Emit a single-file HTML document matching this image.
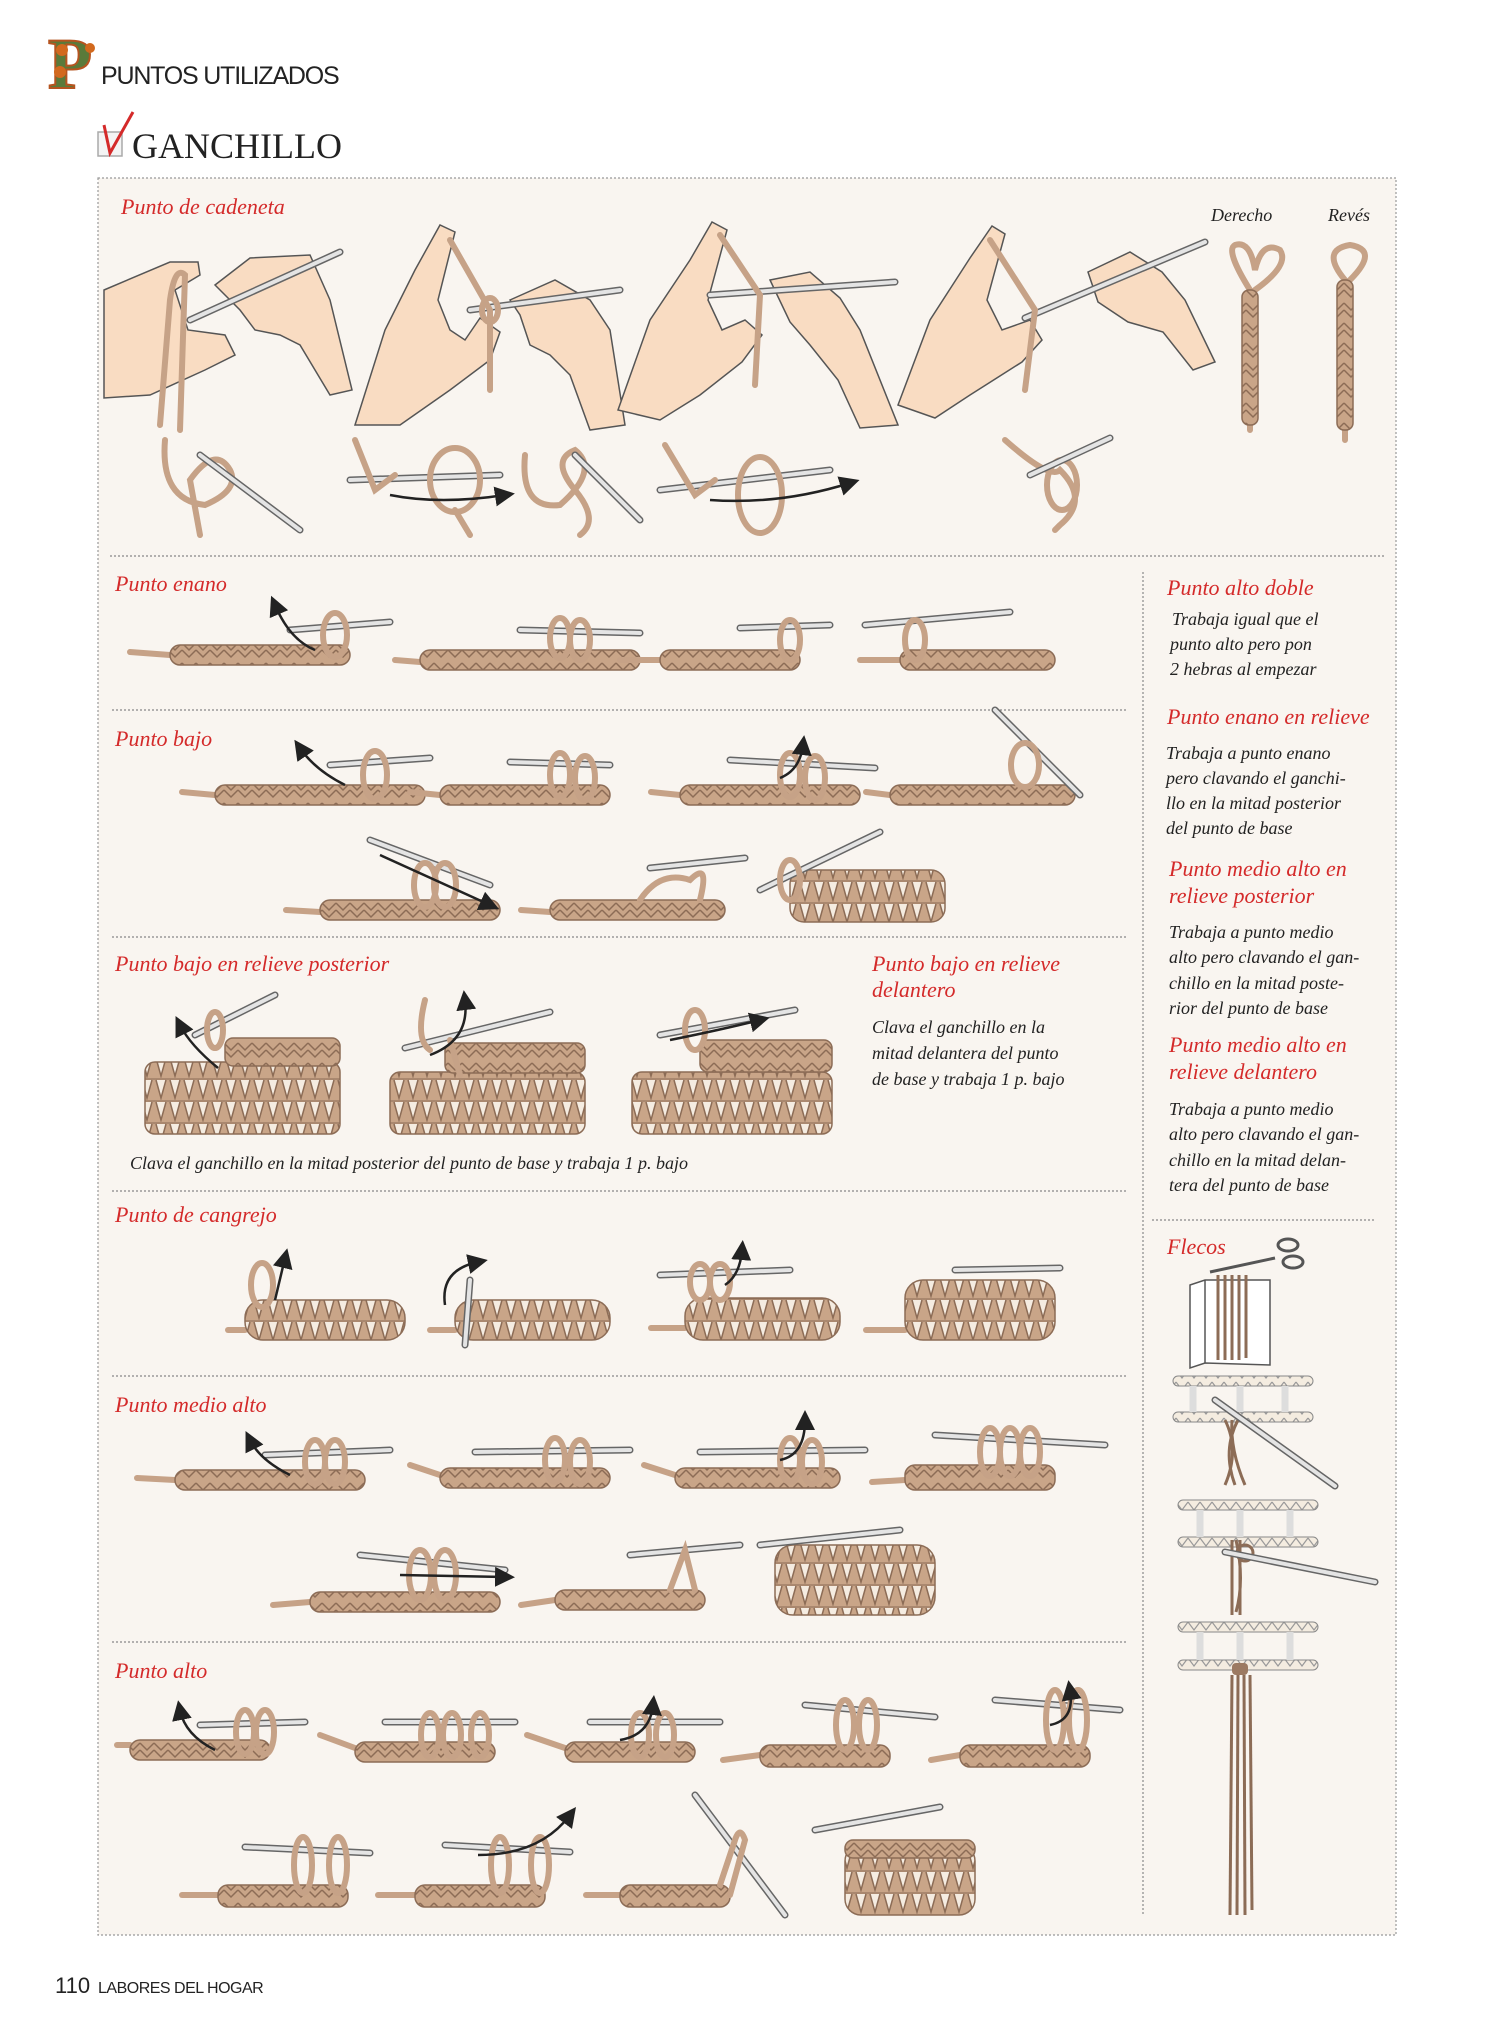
<!DOCTYPE html>
<html><head><meta charset="utf-8"><style>
html,body{margin:0;padding:0;background:#fff}
body{width:1500px;height:2040px;position:relative;overflow:hidden}
svg{position:absolute;left:0;top:0}
.r{font-family:"Liberation Serif",serif;font-style:italic;fill:#d42a2a;font-size:22px}
.b{font-family:"Liberation Serif",serif;font-style:italic;fill:#222;font-size:18px}
.c{fill:url(#zz);stroke:#8c6c56;stroke-width:1.5}
.blk{fill:url(#vv);stroke:#8c6c56;stroke-width:1.5}
.y{fill:none;stroke:#c6a287;stroke-width:6;stroke-linecap:round}
.h{stroke:#666;stroke-width:7;stroke-linecap:round}
.hi{stroke:#e4e4e4;stroke-width:4;stroke-linecap:round}
.a{fill:none;stroke:#222;stroke-width:2.5}
.sk{fill:#f9dcc2;stroke:#555;stroke-width:1.5}
</style></head><body>
<svg width="1500" height="2040" viewBox="0 0 1500 2040">
<defs>
<pattern id="zz" width="14" height="20" patternUnits="userSpaceOnUse">
<rect width="14" height="20" fill="#c9a588"/>
<path d="M0 3 L7 10 L14 3 M0 10 L7 17 L14 10" stroke="#8c6c56" stroke-width="1.5" fill="none"/>
</pattern>
<pattern id="vv" width="14" height="22" patternUnits="userSpaceOnUse">
<rect width="14" height="22" fill="#c9a588"/>
<path d="M2 2 L7 20 L12 2" stroke="#8c6c56" stroke-width="1.5" fill="#f5ece1"/>
<path d="M0 1 H14" stroke="#8c6c56" stroke-width="1"/>
</pattern>
<pattern id="tw" width="12" height="12" patternUnits="userSpaceOnUse">
<rect width="12" height="12" fill="#f4ece0"/>
<path d="M0 2 L6 10 L12 2" stroke="#999" stroke-width="1.2" fill="none"/>
</pattern>
<marker id="ar" markerWidth="8" markerHeight="8" refX="4" refY="4" orient="auto"><path d="M0 0 L8 4 L0 8z" fill="#222"/></marker>
</defs>

<!-- header -->
<text x="48" y="88" font-family="Liberation Serif,serif" font-weight="bold" font-size="72" fill="#5a7a3a" stroke="#b5541f" stroke-width="2">P</text>
<circle cx="62" cy="50" r="6" fill="#d2691e"/><circle cx="60" cy="72" r="6" fill="#d2691e"/><circle cx="90" cy="48" r="5" fill="#d2691e"/>
<text x="101" y="84" font-family="Liberation Sans,sans-serif" font-size="25" fill="#222" letter-spacing="-1.2">PUNTOS UTILIZADOS</text>
<rect x="98" y="132" width="24" height="24" fill="#f4f4f4" stroke="#aaa" stroke-width="1.5"/>
<path d="M104 125 L110 153 L133 112" fill="none" stroke="#d42a2a" stroke-width="3"/>
<text x="132" y="158" font-family="Liberation Serif,serif" font-size="36" fill="#222">GANCHILLO</text>

<!-- frame -->
<rect x="98" y="178" width="1298" height="1757" fill="#f9f5f0" stroke="#999" stroke-width="1.2" stroke-dasharray="2,2"/>
<g stroke="#888" stroke-width="1.2" stroke-dasharray="2,2">
<line x1="110" y1="556" x2="1386" y2="556"/>
<line x1="112" y1="710" x2="1126" y2="710"/>
<line x1="112" y1="937" x2="1126" y2="937"/>
<line x1="112" y1="1191" x2="1126" y2="1191"/>
<line x1="112" y1="1376" x2="1126" y2="1376"/>
<line x1="112" y1="1642" x2="1126" y2="1642"/>
<line x1="1143" y1="572" x2="1143" y2="1914"/>
<line x1="1152" y1="1220" x2="1376" y2="1220"/>
</g>

<!-- labels -->
<text class="r" x="121" y="214">Punto de cadeneta</text>
<text class="b" x="1211" y="221">Derecho</text>
<text class="b" x="1328" y="221">Revés</text>
<text class="r" x="115" y="591">Punto enano</text>
<text class="r" x="115" y="746">Punto bajo</text>
<text class="r" x="115" y="971">Punto bajo en relieve posterior</text>
<text class="r" x="872" y="971">Punto bajo en relieve</text>
<text class="r" x="872" y="997">delantero</text>
<text class="b" x="872" y="1033">Clava el ganchillo en la</text>
<text class="b" x="872" y="1059">mitad delantera del punto</text>
<text class="b" x="872" y="1085">de base y trabaja 1 p. bajo</text>
<text class="b" x="130" y="1169">Clava el ganchillo en la mitad posterior del punto de base y trabaja 1 p. bajo</text>
<text class="r" x="115" y="1222">Punto de cangrejo</text>
<text class="r" x="115" y="1412">Punto medio alto</text>
<text class="r" x="115" y="1678">Punto alto</text>

<text class="r" x="1167" y="595">Punto alto doble</text>
<text class="b" x="1172" y="625">Trabaja igual que el</text>
<text class="b" x="1170" y="650">punto alto pero pon</text>
<text class="b" x="1170" y="675">2 hebras al empezar</text>
<text class="r" x="1167" y="724">Punto enano en relieve</text>
<text class="b" x="1166" y="759">Trabaja a punto enano</text>
<text class="b" x="1166" y="784">pero clavando el ganchi-</text>
<text class="b" x="1166" y="809">llo en la mitad posterior</text>
<text class="b" x="1166" y="834">del punto de base</text>
<text class="r" x="1169" y="876">Punto medio alto en</text>
<text class="r" x="1169" y="903">relieve posterior</text>
<text class="b" x="1169" y="938">Trabaja a punto medio</text>
<text class="b" x="1169" y="963">alto pero clavando el gan-</text>
<text class="b" x="1169" y="989">chillo en la mitad poste-</text>
<text class="b" x="1169" y="1014">rior del punto de base</text>
<text class="r" x="1169" y="1052">Punto medio alto en</text>
<text class="r" x="1169" y="1079">relieve delantero</text>
<text class="b" x="1169" y="1115">Trabaja a punto medio</text>
<text class="b" x="1169" y="1140">alto pero clavando el gan-</text>
<text class="b" x="1169" y="1166">chillo en la mitad delan-</text>
<text class="b" x="1169" y="1191">tera del punto de base</text>
<text class="r" x="1167" y="1254">Flecos</text>

<!-- hands row -->
<g>
<path class="sk" d="M104 290 L170 262 L198 262 L200 275 L175 290 L188 330 L225 335 L235 355 L205 370 L150 395 L104 398z"/>
<path class="sk" d="M215 285 L250 258 L310 255 L330 300 L352 390 L330 395 L300 345 L280 335 L255 330 L240 310z"/>
<line x1="190" y1="320" x2="340" y2="252" class="h"/><line x1="190" y1="320" x2="340" y2="252" class="hi"/>
<path class="y" d="M160 425 L170 300 Q175 265 185 275 L180 430"/>

<path class="sk" d="M355 425 L385 330 L415 270 L440 225 L455 232 L438 300 L450 330 L465 340 L480 318 L500 332 L490 360 L450 390 L400 425z"/>
<path class="sk" d="M510 300 L555 280 L590 300 L610 330 L625 425 L590 430 L570 375 L550 355 L530 345 L520 315z"/>
<line x1="470" y1="310" x2="620" y2="290" class="h"/><line x1="470" y1="310" x2="620" y2="290" class="hi"/>
<path class="y" d="M450 240 L490 310 L490 390"/>
<ellipse cx="490" cy="310" rx="8" ry="12" class="y"/>

<path class="sk" d="M618 410 L650 320 L690 260 L712 222 L727 230 L708 300 L722 330 L745 320 L762 335 L742 362 L700 395 L660 420z"/>
<path class="sk" d="M770 280 L810 272 L840 298 L860 330 L898 425 L860 428 L838 380 L810 345 L790 322z"/>
<line x1="710" y1="295" x2="895" y2="282" class="h"/><line x1="710" y1="295" x2="895" y2="282" class="hi"/>
<path class="y" d="M720 235 L760 295 L755 385"/>

<path class="sk" d="M898 405 L930 320 L970 258 L992 226 L1005 234 L987 300 L1002 330 L1030 320 L1042 340 L1022 362 L970 395 L935 418z"/>
<path class="sk" d="M1088 272 L1130 252 L1162 272 L1185 300 L1215 362 L1193 370 L1163 332 L1128 322 L1098 302z"/>
<line x1="1025" y1="318" x2="1205" y2="242" class="h"/><line x1="1025" y1="318" x2="1205" y2="242" class="hi"/>
<path class="y" d="M990 240 L1035 310 L1025 390"/>

<!-- braids -->
<path class="y" d="M1250 430 L1250 290 Q1225 250 1235 245 Q1250 240 1255 270 Q1262 240 1280 250 Q1290 265 1255 290"/>
<rect x="1242" y="290" width="16" height="135" class="c" rx="7"/>
<path class="y" d="M1345 440 L1345 280 Q1320 250 1350 245 Q1380 250 1350 280"/>
<rect x="1337" y="280" width="16" height="150" class="c" rx="7"/>
</g>

<!-- small loops row -->
<g>
<path class="y" d="M165 440 Q160 500 205 505 Q240 490 230 470 Q215 445 190 480 L200 535"/>
<line x1="200" y1="455" x2="300" y2="530" class="h"/><line x1="200" y1="455" x2="300" y2="530" class="hi"/>
<line x1="350" y1="480" x2="500" y2="475" class="h"/><line x1="350" y1="480" x2="500" y2="475" class="hi"/>
<ellipse cx="455" cy="480" rx="25" ry="32" class="y"/>
<path class="y" d="M355 440 L375 490 L395 475 M455 510 L470 535"/>
<path class="a" d="M390 495 Q440 505 505 495" marker-end="url(#ar)"/>
<path class="y" d="M525 455 Q520 510 560 505 Q600 470 575 450 Q550 460 575 490 Q600 520 580 535"/>
<line x1="575" y1="455" x2="640" y2="520" class="h"/><line x1="575" y1="455" x2="640" y2="520" class="hi"/>
<line x1="660" y1="490" x2="830" y2="470" class="h"/><line x1="660" y1="490" x2="830" y2="470" class="hi"/>
<ellipse cx="760" cy="495" rx="22" ry="38" class="y"/>
<path class="y" d="M665 445 L695 495 L715 480"/>
<path class="a" d="M710 500 Q780 505 850 483" marker-end="url(#ar)"/>
<path class="y" d="M1005 440 Q1050 480 1060 470 Q1090 500 1060 525 L1055 530"/>
<ellipse cx="1062" cy="485" rx="15" ry="25" class="y"/>
<line x1="1030" y1="475" x2="1110" y2="438" class="h"/><line x1="1030" y1="475" x2="1110" y2="438" class="hi"/>
</g>

<!-- generic chain rows -->
<g>
<path class="y" d="M130 652 L170 655"/><rect x="170" y="645" width="180" height="20" rx="10" class="c"/>
<line x1="290" y1="630" x2="390" y2="622" class="h"/><line x1="290" y1="630" x2="390" y2="622" class="hi"/>
<ellipse cx="335" cy="635" rx="12" ry="22" class="y"/><path class="a" d="M315 650 Q290 640 275 605" marker-end="url(#ar)"/>
<path class="y" d="M395 660 L420 662"/><rect x="420" y="650" width="220" height="20" rx="10" class="c"/>
<line x1="520" y1="630" x2="640" y2="633" class="h"/><line x1="520" y1="630" x2="640" y2="633" class="hi"/>
<ellipse cx="560" cy="638" rx="10" ry="20" class="y"/><ellipse cx="580" cy="640" rx="10" ry="20" class="y"/>
<path class="y" d="M620 660 L660 660"/><rect x="660" y="650" width="140" height="20" rx="10" class="c"/>
<line x1="740" y1="628" x2="830" y2="625" class="h"/><line x1="740" y1="628" x2="830" y2="625" class="hi"/>
<ellipse cx="790" cy="640" rx="10" ry="20" class="y"/>
<path class="y" d="M860 660 L900 660"/><rect x="900" y="650" width="155" height="20" rx="10" class="c"/>
<line x1="865" y1="625" x2="1010" y2="612" class="h"/><line x1="865" y1="625" x2="1010" y2="612" class="hi"/>
<ellipse cx="915" cy="640" rx="10" ry="20" class="y"/>

<path class="y" d="M182 792 L215 795"/><rect x="215" y="785" width="210" height="20" rx="10" class="c"/>
<line x1="330" y1="765" x2="430" y2="758" class="h"/><line x1="330" y1="765" x2="430" y2="758" class="hi"/>
<ellipse cx="375" cy="775" rx="12" ry="24" class="y"/><path class="a" d="M345 785 Q315 770 300 748" marker-end="url(#ar)"/>
<path class="y" d="M410 792 L440 795"/><rect x="440" y="785" width="170" height="20" rx="10" class="c"/>
<line x1="510" y1="762" x2="610" y2="765" class="h"/><line x1="510" y1="762" x2="610" y2="765" class="hi"/>
<ellipse cx="560" cy="775" rx="10" ry="22" class="y"/><ellipse cx="585" cy="778" rx="10" ry="22" class="y"/>
<path class="y" d="M651 792 L680 795"/><rect x="680" y="785" width="180" height="20" rx="10" class="c"/>
<line x1="730" y1="760" x2="875" y2="768" class="h"/><line x1="730" y1="760" x2="875" y2="768" class="hi"/>
<ellipse cx="790" cy="775" rx="10" ry="22" class="y"/><ellipse cx="815" cy="778" rx="10" ry="22" class="y"/>
<path class="a" d="M780 778 Q800 770 803 745" marker-end="url(#ar)"/>
<path class="y" d="M866 792 L890 795"/><rect x="890" y="785" width="185" height="20" rx="10" class="c"/>
<line x1="995" y1="710" x2="1080" y2="795" class="h"/><line x1="995" y1="710" x2="1080" y2="795" class="hi"/>
<ellipse cx="1025" cy="765" rx="14" ry="22" class="y"/>

<path class="y" d="M286 910 L320 912"/><rect x="320" y="900" width="180" height="20" rx="10" class="c"/>
<line x1="370" y1="840" x2="490" y2="885" class="h"/><line x1="370" y1="840" x2="490" y2="885" class="hi"/>
<ellipse cx="425" cy="885" rx="11" ry="22" class="y"/><ellipse cx="445" cy="885" rx="11" ry="22" class="y"/>
<path class="a" d="M380 855 L490 905" marker-end="url(#ar)"/>
<path class="y" d="M521 910 L550 912"/><rect x="550" y="900" width="175" height="20" rx="10" class="c"/>
<line x1="650" y1="868" x2="745" y2="858" class="h"/><line x1="650" y1="868" x2="745" y2="858" class="hi"/>
<path class="y" d="M640 900 Q660 870 690 880 Q710 860 700 900"/>
<rect x="790" y="870" width="155" height="52" rx="14" class="blk"/>
<line x1="760" y1="890" x2="880" y2="832" class="h"/><line x1="760" y1="890" x2="880" y2="832" class="hi"/>
<ellipse cx="790" cy="880" rx="10" ry="20" class="y"/>

<rect x="145" y="1062" width="195" height="72" rx="10" class="blk"/><rect x="225" y="1038" width="115" height="28" rx="8" class="c"/>
<line x1="195" y1="1035" x2="275" y2="995" class="h"/><line x1="195" y1="1035" x2="275" y2="995" class="hi"/>
<ellipse cx="215" cy="1030" rx="8" ry="18" class="y"/><path class="a" d="M218 1068 Q190 1045 180 1025" marker-end="url(#ar)"/>
<rect x="390" y="1072" width="195" height="62" rx="10" class="blk"/><rect x="445" y="1043" width="140" height="30" rx="8" class="c"/>
<line x1="405" y1="1048" x2="550" y2="1012" class="h"/><line x1="405" y1="1048" x2="550" y2="1012" class="hi"/>
<path class="y" d="M425 1000 Q415 1040 430 1050 M450 1040 L460 1075"/><path class="a" d="M430 1055 Q470 1040 465 1000" marker-end="url(#ar)"/>
<rect x="632" y="1072" width="200" height="62" rx="10" class="blk"/><rect x="700" y="1040" width="132" height="32" rx="8" class="c"/>
<line x1="660" y1="1035" x2="795" y2="1010" class="h"/><line x1="660" y1="1035" x2="795" y2="1010" class="hi"/>
<ellipse cx="695" cy="1030" rx="10" ry="20" class="y"/><path class="a" d="M670 1040 Q720 1030 760 1020" marker-end="url(#ar)"/>

<path class="y" d="M228 1330 L245 1330"/><rect x="245" y="1300" width="160" height="40" rx="18" class="blk"/>
<ellipse cx="262" cy="1285" rx="11" ry="22" class="y"/><path class="a" d="M275 1300 L285 1258" marker-end="url(#ar)"/>
<path class="y" d="M430 1330 L455 1330"/><rect x="455" y="1300" width="155" height="40" rx="18" class="blk"/>
<line x1="470" y1="1280" x2="465" y2="1345" class="h"/><line x1="470" y1="1280" x2="465" y2="1345" class="hi"/>
<path class="a" d="M445 1305 Q440 1270 478 1262" marker-end="url(#ar)"/>
<path class="y" d="M651 1328 L685 1328"/><rect x="685" y="1298" width="155" height="42" rx="18" class="blk"/>
<line x1="660" y1="1275" x2="790" y2="1270" class="h"/><line x1="660" y1="1275" x2="790" y2="1270" class="hi"/>
<ellipse cx="700" cy="1282" rx="10" ry="18" class="y"/><ellipse cx="720" cy="1282" rx="10" ry="18" class="y"/><path class="a" d="M725 1285 Q740 1275 742 1250" marker-end="url(#ar)"/>
<path class="y" d="M866 1330 L905 1330"/><rect x="905" y="1280" width="150" height="60" rx="18" class="blk"/>
<line x1="955" y1="1270" x2="1060" y2="1268" class="h"/><line x1="955" y1="1270" x2="1060" y2="1268" class="hi"/>

<path class="y" d="M137 1478 L175 1480"/><rect x="175" y="1470" width="190" height="20" rx="10" class="c"/>
<line x1="265" y1="1455" x2="390" y2="1450" class="h"/><line x1="265" y1="1455" x2="390" y2="1450" class="hi"/>
<ellipse cx="315" cy="1462" rx="10" ry="22" class="y"/><ellipse cx="335" cy="1462" rx="10" ry="22" class="y"/><path class="a" d="M290 1475 Q260 1460 250 1440" marker-end="url(#ar)"/>
<path class="y" d="M410 1465 L440 1475"/><rect x="440" y="1468" width="170" height="20" rx="10" class="c"/>
<line x1="475" y1="1452" x2="630" y2="1450" class="h"/><line x1="475" y1="1452" x2="630" y2="1450" class="hi"/>
<ellipse cx="555" cy="1460" rx="10" ry="22" class="y"/><ellipse cx="580" cy="1462" rx="10" ry="22" class="y"/>
<path class="y" d="M644 1465 L675 1475"/><rect x="675" y="1468" width="165" height="20" rx="10" class="c"/>
<line x1="700" y1="1452" x2="865" y2="1450" class="h"/><line x1="700" y1="1452" x2="865" y2="1450" class="hi"/>
<ellipse cx="790" cy="1460" rx="10" ry="22" class="y"/><ellipse cx="812" cy="1462" rx="10" ry="22" class="y"/><path class="a" d="M780 1460 Q805 1455 805 1420" marker-end="url(#ar)"/>
<path class="y" d="M872 1482 L905 1480"/><rect x="905" y="1465" width="150" height="25" rx="10" class="c"/>
<line x1="935" y1="1435" x2="1105" y2="1445" class="h"/><line x1="935" y1="1435" x2="1105" y2="1445" class="hi"/>
<ellipse cx="990" cy="1452" rx="10" ry="24" class="y"/><ellipse cx="1010" cy="1452" rx="10" ry="24" class="y"/><ellipse cx="1030" cy="1452" rx="10" ry="24" class="y"/>

<path class="y" d="M273 1605 L310 1602"/><rect x="310" y="1592" width="190" height="20" rx="10" class="c"/>
<line x1="360" y1="1555" x2="505" y2="1570" class="h"/><line x1="360" y1="1555" x2="505" y2="1570" class="hi"/>
<ellipse cx="420" cy="1575" rx="11" ry="25" class="y"/><ellipse cx="445" cy="1575" rx="11" ry="25" class="y"/><path class="a" d="M400 1575 L505 1577" marker-end="url(#ar)"/>
<path class="y" d="M521 1605 L555 1600"/><rect x="555" y="1590" width="150" height="20" rx="10" class="c"/>
<line x1="630" y1="1555" x2="740" y2="1545" class="h"/><line x1="630" y1="1555" x2="740" y2="1545" class="hi"/>
<path class="y" d="M670 1590 L685 1550 L695 1590"/>
<rect x="775" y="1545" width="160" height="70" rx="18" class="blk"/>
<line x1="760" y1="1545" x2="900" y2="1530" class="h"/><line x1="760" y1="1545" x2="900" y2="1530" class="hi"/>

<path class="y" d="M117 1745 L130 1745"/><rect x="130" y="1740" width="140" height="20" rx="10" class="c"/>
<line x1="200" y1="1725" x2="305" y2="1722" class="h"/><line x1="200" y1="1725" x2="305" y2="1722" class="hi"/>
<ellipse cx="245" cy="1732" rx="9" ry="22" class="y"/><ellipse cx="265" cy="1732" rx="9" ry="22" class="y"/><path class="a" d="M215 1750 Q185 1735 180 1710" marker-end="url(#ar)"/>
<path class="y" d="M320 1735 L355 1748"/><rect x="355" y="1742" width="140" height="20" rx="10" class="c"/>
<line x1="385" y1="1722" x2="515" y2="1722" class="h"/><line x1="385" y1="1722" x2="515" y2="1722" class="hi"/>
<ellipse cx="430" cy="1735" rx="9" ry="22" class="y"/><ellipse cx="452" cy="1735" rx="9" ry="22" class="y"/><ellipse cx="480" cy="1735" rx="9" ry="22" class="y"/>
<path class="y" d="M527 1735 L565 1748"/><rect x="565" y="1742" width="130" height="20" rx="10" class="c"/>
<line x1="590" y1="1722" x2="720" y2="1722" class="h"/><line x1="590" y1="1722" x2="720" y2="1722" class="hi"/>
<ellipse cx="640" cy="1735" rx="9" ry="22" class="y"/><ellipse cx="665" cy="1735" rx="9" ry="22" class="y"/><path class="a" d="M620 1740 Q650 1735 653 1705" marker-end="url(#ar)"/>
<path class="y" d="M723 1760 L760 1755"/><rect x="760" y="1745" width="130" height="22" rx="10" class="c"/>
<line x1="805" y1="1705" x2="935" y2="1717" class="h"/><line x1="805" y1="1705" x2="935" y2="1717" class="hi"/>
<ellipse cx="845" cy="1725" rx="9" ry="25" class="y"/><ellipse cx="868" cy="1725" rx="9" ry="25" class="y"/>
<path class="y" d="M931 1760 L960 1755"/><rect x="960" y="1745" width="130" height="22" rx="10" class="c"/>
<line x1="995" y1="1700" x2="1120" y2="1710" class="h"/><line x1="995" y1="1700" x2="1120" y2="1710" class="hi"/>
<ellipse cx="1055" cy="1720" rx="9" ry="30" class="y"/><ellipse cx="1078" cy="1720" rx="9" ry="30" class="y"/><path class="a" d="M1050 1725 Q1075 1720 1070 1690" marker-end="url(#ar)"/>

<path class="y" d="M182 1895 L218 1895"/><rect x="218" y="1885" width="130" height="22" rx="10" class="c"/>
<line x1="245" y1="1847" x2="370" y2="1853" class="h"/><line x1="245" y1="1847" x2="370" y2="1853" class="hi"/>
<ellipse cx="303" cy="1865" rx="9" ry="28" class="y"/><ellipse cx="338" cy="1865" rx="9" ry="28" class="y"/>
<path class="y" d="M378 1895 L415 1895"/><rect x="415" y="1885" width="130" height="22" rx="10" class="c"/>
<line x1="445" y1="1845" x2="570" y2="1852" class="h"/><line x1="445" y1="1845" x2="570" y2="1852" class="hi"/>
<ellipse cx="500" cy="1865" rx="9" ry="28" class="y"/><ellipse cx="540" cy="1865" rx="9" ry="28" class="y"/><path class="a" d="M478 1855 Q540 1855 570 1815" marker-end="url(#ar)"/>
<path class="y" d="M586 1895 L620 1895"/><rect x="620" y="1885" width="110" height="22" rx="10" class="c"/>
<line x1="695" y1="1795" x2="785" y2="1915" class="h"/><line x1="695" y1="1795" x2="785" y2="1915" class="hi"/>
<path class="y" d="M720 1885 L735 1840 Q740 1825 745 1840 L730 1895"/>
<rect x="845" y="1845" width="130" height="70" rx="16" class="blk"/>
<rect x="845" y="1840" width="130" height="18" rx="8" class="c"/>
<line x1="815" y1="1830" x2="940" y2="1807" class="h"/><line x1="815" y1="1830" x2="940" y2="1807" class="hi"/>
</g>

<!-- flecos -->
<g>
<path d="M1190 1285 L1205 1280 L1270 1280 L1270 1365 L1205 1363 L1190 1368z" fill="#fff" stroke="#555" stroke-width="1.5"/>
<line x1="1205" y1="1280" x2="1205" y2="1363" stroke="#555" stroke-width="1.5"/>
<g stroke="#8c6c56" stroke-width="3"><line x1="1218" y1="1275" x2="1218" y2="1360"/><line x1="1225" y1="1275" x2="1225" y2="1360"/><line x1="1232" y1="1275" x2="1232" y2="1360"/><line x1="1239" y1="1275" x2="1239" y2="1360"/><line x1="1246" y1="1275" x2="1246" y2="1358"/></g>
<line x1="1210" y1="1272" x2="1275" y2="1258" stroke="#555" stroke-width="3"/>
<ellipse cx="1288" cy="1245" rx="10" ry="6" fill="none" stroke="#555" stroke-width="3"/>
<ellipse cx="1293" cy="1262" rx="10" ry="6" fill="none" stroke="#555" stroke-width="3"/>

<rect x="1173" y="1376" width="140" height="10" rx="5" fill="url(#tw)" stroke="#888"/>
<rect x="1173" y="1412" width="140" height="10" rx="5" fill="url(#tw)" stroke="#888"/>
<g><line x1="1193" y1="1386" x2="1193" y2="1412" stroke="#ddd" stroke-width="7"/><line x1="1240" y1="1386" x2="1240" y2="1412" stroke="#ddd" stroke-width="7"/><line x1="1285" y1="1386" x2="1285" y2="1412" stroke="#ddd" stroke-width="7"/></g>
<g stroke="#8c6c56" stroke-width="3" fill="none"><path d="M1225 1420 Q1240 1450 1225 1485"/><path d="M1232 1420 Q1230 1450 1245 1485"/><path d="M1238 1420 Q1222 1450 1235 1485"/></g>
<line x1="1215" y1="1400" x2="1335" y2="1486" class="h"/><line x1="1215" y1="1400" x2="1335" y2="1486" class="hi"/>

<rect x="1178" y="1500" width="140" height="10" rx="5" fill="url(#tw)" stroke="#888"/>
<rect x="1178" y="1537" width="140" height="10" rx="5" fill="url(#tw)" stroke="#888"/>
<g><line x1="1200" y1="1510" x2="1200" y2="1537" stroke="#ddd" stroke-width="7"/><line x1="1240" y1="1510" x2="1240" y2="1537" stroke="#ddd" stroke-width="7"/><line x1="1290" y1="1510" x2="1290" y2="1537" stroke="#ddd" stroke-width="7"/></g>
<g stroke="#8c6c56" stroke-width="3" fill="none"><path d="M1232 1540 L1232 1615"/><path d="M1240 1540 L1240 1615"/><path d="M1236 1540 Q1245 1580 1236 1612"/></g>
<circle cx="1245" cy="1553" r="8" fill="none" stroke="#8c6c56" stroke-width="3"/>
<line x1="1225" y1="1552" x2="1375" y2="1582" class="h"/><line x1="1225" y1="1552" x2="1375" y2="1582" class="hi"/>

<rect x="1178" y="1622" width="140" height="10" rx="5" fill="url(#tw)" stroke="#888"/>
<rect x="1178" y="1660" width="140" height="10" rx="5" fill="url(#tw)" stroke="#888"/>
<g><line x1="1200" y1="1632" x2="1200" y2="1660" stroke="#ddd" stroke-width="7"/><line x1="1240" y1="1632" x2="1240" y2="1660" stroke="#ddd" stroke-width="7"/><line x1="1290" y1="1632" x2="1290" y2="1660" stroke="#ddd" stroke-width="7"/></g>
<rect x="1232" y="1663" width="16" height="12" rx="4" fill="#9c7a62"/>
<g stroke="#8c6c56" stroke-width="3"><line x1="1232" y1="1675" x2="1230" y2="1915"/><line x1="1238" y1="1675" x2="1237" y2="1915"/><line x1="1244" y1="1675" x2="1245" y2="1915"/><line x1="1250" y1="1675" x2="1252" y2="1910"/></g>
</g>

<!-- footer -->
<text x="55" y="1993" font-family="Liberation Sans,sans-serif" font-size="22" fill="#222">110</text>
<text x="98" y="1993" font-family="Liberation Sans,sans-serif" font-size="16" fill="#222" letter-spacing="-0.5">LABORES DEL HOGAR</text>
</svg>
</body></html>
